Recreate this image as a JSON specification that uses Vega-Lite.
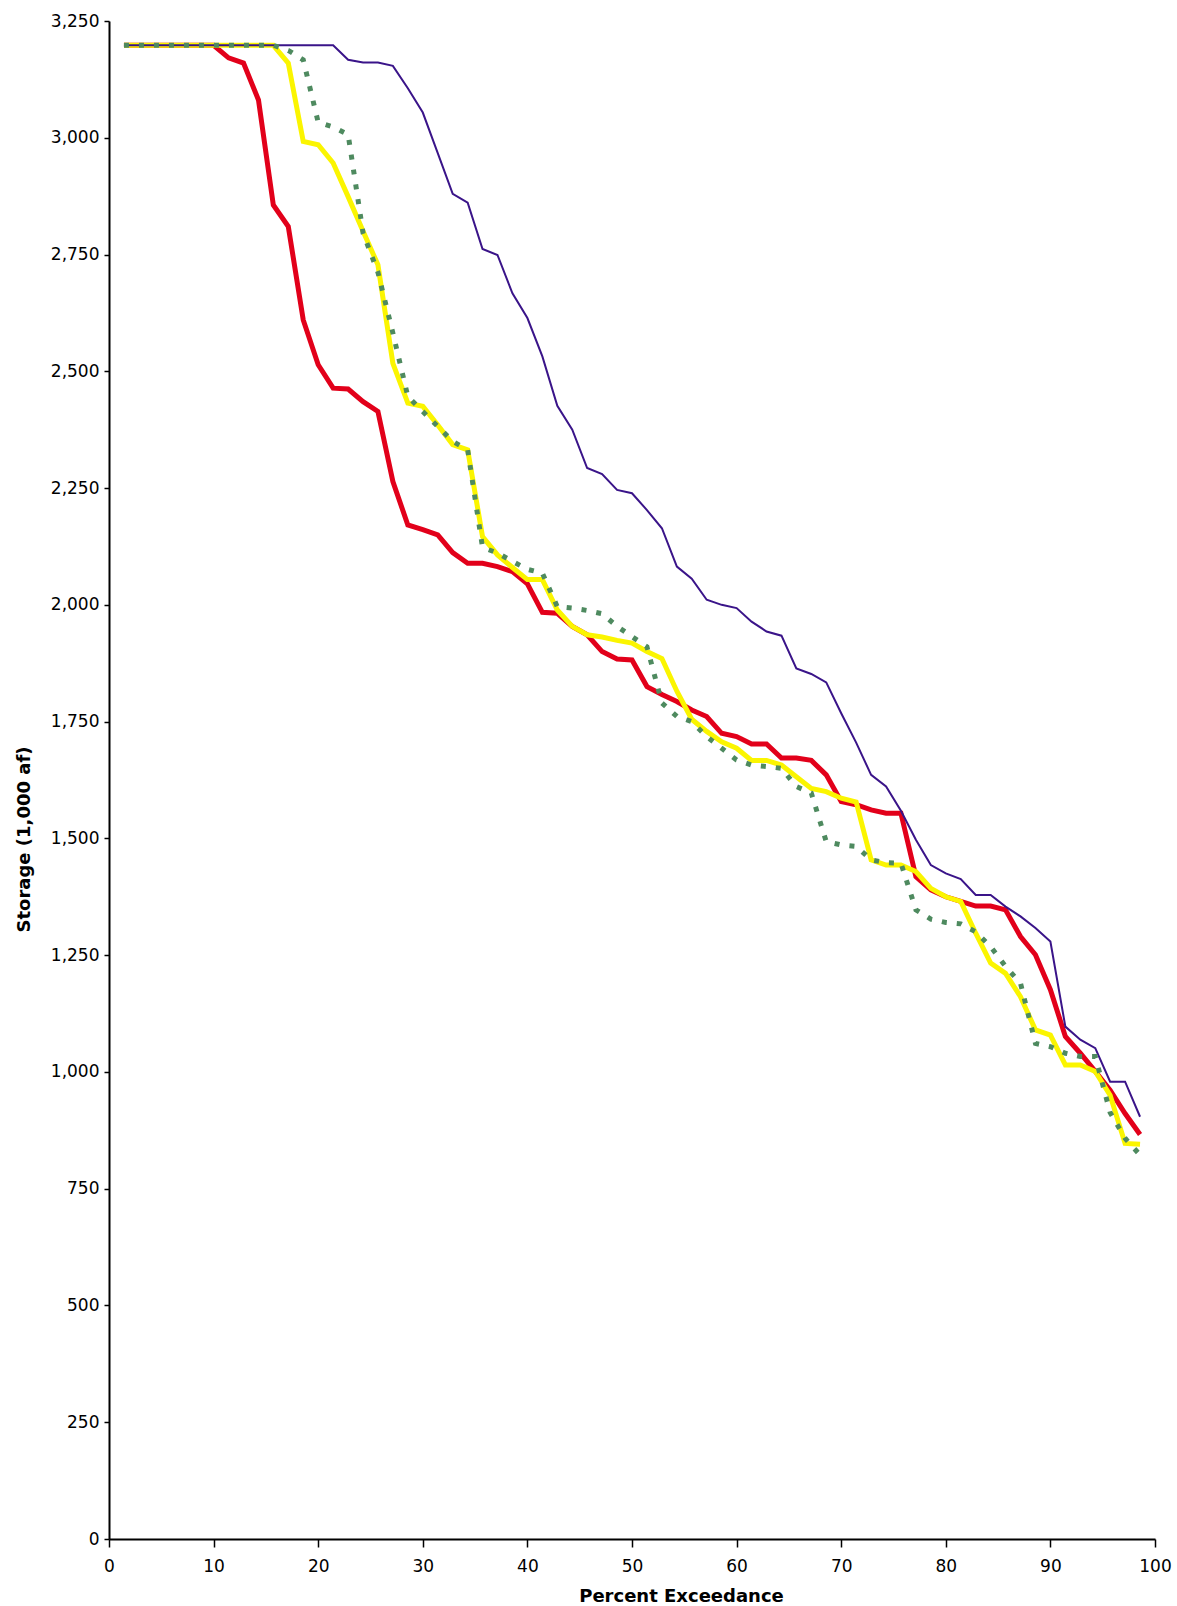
{
  "$schema": "https://vega.github.io/schema/vega-lite/v6.json",
  "autosize": {"type": "none"},
  "padding": {"left": 109, "top": 21, "right": 22, "bottom": 67},
  "width": 1046,
  "height": 1518,
  "background": "white",
  "config": {
    "view": {"stroke": null},
    "axis": {
      "labelFont": "DejaVu Sans",
      "labelFontSize": 17,
      "labelColor": "black",
      "titleFont": "DejaVu Sans",
      "titleFontWeight": "bold",
      "titleFontSize": 18,
      "titleColor": "black",
      "domainColor": "black",
      "domainWidth": 2,
      "tickColor": "black",
      "tickWidth": 1.5,
      "grid": false
    }
  },
  "data": {"values": [
    {"p": 1.43, "red": 3198, "yellow": 3198, "purple": 3198, "green": 3198},
    {"p": 2.86, "red": 3198, "yellow": 3198, "purple": 3198, "green": 3198},
    {"p": 4.29, "red": 3198, "yellow": 3198, "purple": 3198, "green": 3198},
    {"p": 5.71, "red": 3198, "yellow": 3198, "purple": 3198, "green": 3198},
    {"p": 7.14, "red": 3198, "yellow": 3198, "purple": 3198, "green": 3198},
    {"p": 8.57, "red": 3198, "yellow": 3198, "purple": 3198, "green": 3198},
    {"p": 10.0, "red": 3198, "yellow": 3198, "purple": 3198, "green": 3198},
    {"p": 11.43, "red": 3171, "yellow": 3198, "purple": 3198, "green": 3198},
    {"p": 12.86, "red": 3160, "yellow": 3198, "purple": 3198, "green": 3198},
    {"p": 14.29, "red": 3081, "yellow": 3198, "purple": 3198, "green": 3198},
    {"p": 15.71, "red": 2856, "yellow": 3198, "purple": 3198, "green": 3198},
    {"p": 17.14, "red": 2810, "yellow": 3160, "purple": 3198, "green": 3187},
    {"p": 18.57, "red": 2610, "yellow": 2992, "purple": 3198, "green": 3167},
    {"p": 20.0, "red": 2514, "yellow": 2985, "purple": 3198, "green": 3033},
    {"p": 21.43, "red": 2464, "yellow": 2946, "purple": 3198, "green": 3023},
    {"p": 22.86, "red": 2462, "yellow": 2874, "purple": 3167, "green": 3007},
    {"p": 24.29, "red": 2435, "yellow": 2800, "purple": 3161, "green": 2796},
    {"p": 25.71, "red": 2414, "yellow": 2728, "purple": 3161, "green": 2712},
    {"p": 27.14, "red": 2264, "yellow": 2517, "purple": 3154, "green": 2582},
    {"p": 28.57, "red": 2171, "yellow": 2432, "purple": 3106, "green": 2446},
    {"p": 30.0, "red": 2161, "yellow": 2425, "purple": 3054, "green": 2414},
    {"p": 31.43, "red": 2150, "yellow": 2385, "purple": 2967, "green": 2382},
    {"p": 32.86, "red": 2112, "yellow": 2343, "purple": 2880, "green": 2350},
    {"p": 34.29, "red": 2089, "yellow": 2332, "purple": 2861, "green": 2332},
    {"p": 35.71, "red": 2089, "yellow": 2146, "purple": 2762, "green": 2123},
    {"p": 37.14, "red": 2082, "yellow": 2107, "purple": 2749, "green": 2111},
    {"p": 38.57, "red": 2071, "yellow": 2080, "purple": 2667, "green": 2093},
    {"p": 40.0, "red": 2045, "yellow": 2054, "purple": 2614, "green": 2076},
    {"p": 41.43, "red": 1984, "yellow": 2054, "purple": 2532, "green": 2068},
    {"p": 42.86, "red": 1982, "yellow": 1989, "purple": 2426, "green": 1996},
    {"p": 44.29, "red": 1954, "yellow": 1954, "purple": 2375, "green": 1993},
    {"p": 45.71, "red": 1936, "yellow": 1936, "purple": 2293, "green": 1988},
    {"p": 47.14, "red": 1900, "yellow": 1931, "purple": 2280, "green": 1981},
    {"p": 48.57, "red": 1884, "yellow": 1924, "purple": 2246, "green": 1954},
    {"p": 50.0, "red": 1882, "yellow": 1918, "purple": 2239, "green": 1932},
    {"p": 51.43, "red": 1825, "yellow": 1900, "purple": 2203, "green": 1910},
    {"p": 52.86, "red": 1808, "yellow": 1885, "purple": 2164, "green": 1790},
    {"p": 54.29, "red": 1793, "yellow": 1815, "purple": 2082, "green": 1761},
    {"p": 55.71, "red": 1775, "yellow": 1755, "purple": 2056, "green": 1750},
    {"p": 57.14, "red": 1761, "yellow": 1729, "purple": 2011, "green": 1718},
    {"p": 58.57, "red": 1725, "yellow": 1707, "purple": 2000, "green": 1693},
    {"p": 60.0, "red": 1718, "yellow": 1693, "purple": 1993, "green": 1668},
    {"p": 61.43, "red": 1702, "yellow": 1667, "purple": 1964, "green": 1657},
    {"p": 62.86, "red": 1702, "yellow": 1667, "purple": 1943, "green": 1654},
    {"p": 64.29, "red": 1672, "yellow": 1657, "purple": 1934, "green": 1650},
    {"p": 65.71, "red": 1672, "yellow": 1632, "purple": 1864, "green": 1611},
    {"p": 67.14, "red": 1667, "yellow": 1607, "purple": 1852, "green": 1597},
    {"p": 68.57, "red": 1636, "yellow": 1600, "purple": 1834, "green": 1493},
    {"p": 70.0, "red": 1579, "yellow": 1586, "purple": 1768, "green": 1486},
    {"p": 71.43, "red": 1572, "yellow": 1578, "purple": 1705, "green": 1483},
    {"p": 72.86, "red": 1561, "yellow": 1454, "purple": 1636, "green": 1454},
    {"p": 74.29, "red": 1554, "yellow": 1443, "purple": 1611, "green": 1448},
    {"p": 75.71, "red": 1554, "yellow": 1443, "purple": 1559, "green": 1447},
    {"p": 77.14, "red": 1418, "yellow": 1429, "purple": 1497, "green": 1347},
    {"p": 78.57, "red": 1390, "yellow": 1393, "purple": 1443, "green": 1327},
    {"p": 80.0, "red": 1375, "yellow": 1375, "purple": 1425, "green": 1320},
    {"p": 81.43, "red": 1365, "yellow": 1365, "purple": 1413, "green": 1317},
    {"p": 82.86, "red": 1355, "yellow": 1297, "purple": 1379, "green": 1300},
    {"p": 84.29, "red": 1355, "yellow": 1233, "purple": 1379, "green": 1268},
    {"p": 85.71, "red": 1347, "yellow": 1211, "purple": 1354, "green": 1226},
    {"p": 87.14, "red": 1290, "yellow": 1161, "purple": 1333, "green": 1190},
    {"p": 88.57, "red": 1251, "yellow": 1090, "purple": 1308, "green": 1061},
    {"p": 90.0, "red": 1176, "yellow": 1079, "purple": 1279, "green": 1054},
    {"p": 91.43, "red": 1076, "yellow": 1015, "purple": 1097, "green": 1040},
    {"p": 92.86, "red": 1040, "yellow": 1015, "purple": 1069, "green": 1033},
    {"p": 94.29, "red": 1001, "yellow": 1001, "purple": 1051, "green": 1033},
    {"p": 95.71, "red": 961, "yellow": 950, "purple": 979, "green": 913},
    {"p": 97.14, "red": 911, "yellow": 847, "purple": 979, "green": 858},
    {"p": 98.57, "red": 866, "yellow": 845, "purple": 904, "green": 822}
  ]},
  "encoding": {
    "x": {"field": "p", "type": "quantitative",
          "scale": {"domain": [0, 100], "nice": false, "zero": false},
          "axis": {"orient": "bottom", "values": [0,10,20,30,40,50,60,70,80,90,100],
                   "tickSize": 8, "labelPadding": 11, "labelFlush": false,
                   "title": "Percent Exceedance", "titleX": 572, "titleY": 62, "titleBaseline": "alphabetic", "titleAlign": "center", "titleAnchor": null}}
  },
  "layer": [
    {
      "mark": {"type": "line", "color": "#e2001a", "strokeWidth": 5, "strokeJoin": "miter", "clip": false},
      "encoding": {
        "y": {"field": "red", "type": "quantitative",
              "scale": {"domain": [0, 3250], "nice": false},
              "axis": {"orient": "left", "values": [0,250,500,750,1000,1250,1500,1750,2000,2250,2500,2750,3000,3250],
                       "format": ",d", "tickSize": 5, "labelPadding": 5, "labelFlush": false,
                       "title": "Storage (1,000 af)", "titleAngle": 270, "titleX": -80, "titleY": 818, "titleBaseline": "alphabetic", "titleAlign": "center", "titleAnchor": null}}
      }
    },
    {
      "mark": {"type": "line", "color": "#fbf500", "strokeWidth": 5, "strokeJoin": "miter", "clip": false},
      "encoding": {
        "y": {"field": "yellow", "type": "quantitative"}
      }
    },
    {
      "mark": {"type": "line", "color": "#3a1489", "strokeWidth": 2, "clip": false},
      "encoding": {
        "y": {"field": "purple", "type": "quantitative"}
      }
    },
    {
      "mark": {"type": "line", "color": "#4e8a5f", "strokeWidth": 5, "strokeDash": [5, 10], "strokeCap": "butt", "clip": false},
      "encoding": {
        "y": {"field": "green", "type": "quantitative"}
      }
    }
  ]
}
